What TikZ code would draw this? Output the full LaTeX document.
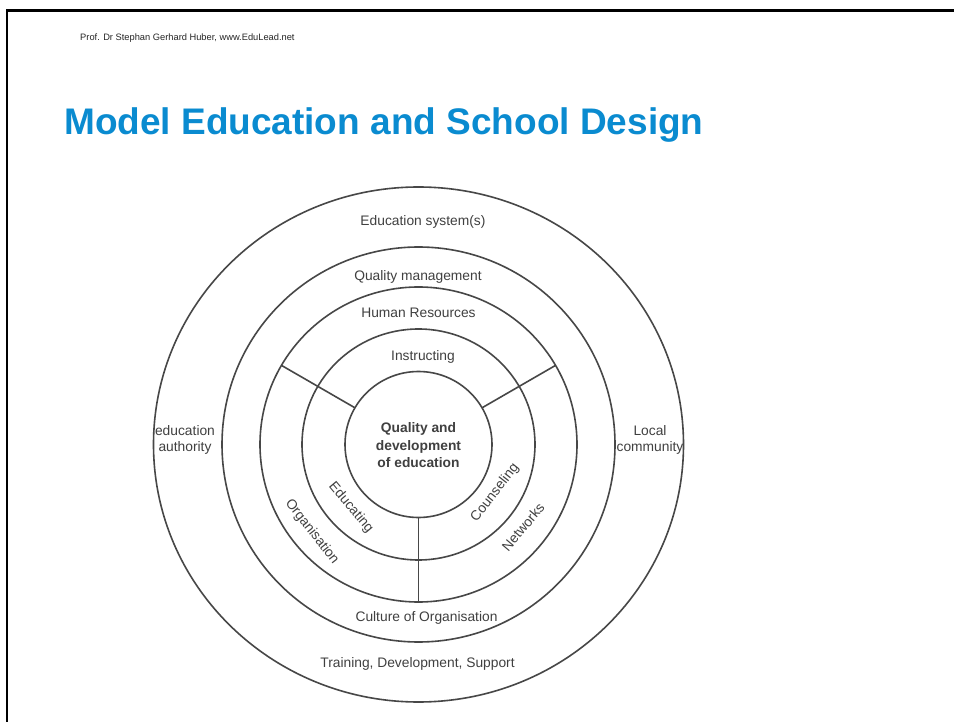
\documentclass[tikz,border=0pt]{standalone}
\usepackage{fontspec}
\setmainfont{Liberation Sans}
\definecolor{titleblue}{HTML}{0A8BD0}
\definecolor{ringgrey}{HTML}{474747}
\definecolor{textgrey}{HTML}{404040}
\begin{document}
\begin{tikzpicture}[x=1pt,y=1pt,
  ring/.style={draw=ringgrey,line width=1.6pt},
  lbl/.style={text=textgrey,font=\fontsize{13.8}{16}\selectfont,inner sep=0pt,text height=9.9pt,text depth=0pt},
  corelbl/.style={lbl,font=\fontsize{13.8}{17.5}\selectfont\bfseries,align=center}]
\useasboundingbox (0,0) rectangle (954,-722);
\fill[white] (0,0) rectangle (954,-722);
\draw[line width=2.5pt] (7,-722) -- (7,-10.5) -- (954,-10.5);
\node[anchor=west,inner sep=0pt,font=\fontsize{9.3}{11}\selectfont,text=black!85] (hdr) at (80,-38) {Prof. Dr Stephan Gerhard Huber, www.EduLead.net};
\node[anchor=base west,inner sep=0pt,font=\fontsize{37}{44}\selectfont\bfseries,text=titleblue] (title) at (64,-135) {Model Education and School Design};
\coordinate (c) at (418.5,-444.5);
\draw[ring] (c) ellipse [x radius=265, y radius=257.5];
\draw[ring] (c) ellipse [x radius=196.5, y radius=197.5];
\draw[ring] (c) ellipse [x radius=158.5, y radius=157.5];
\draw[ring] (c) ellipse [x radius=116.5, y radius=115.5];
\draw[ring] (c) ellipse [x radius=73.5, y radius=73];
\foreach \a in {30,150,270}{
  \draw[ring] ([shift={(\a:73.2)}]c) -- ([shift={(\a:158)}]c);
}
\node[lbl] (edsys) at (423,-221) {Education system(s)};
\node[lbl] (qm) at (418,-276) {Quality management};
\node[lbl] (hr) at (418.5,-313) {Human Resources};
\node[lbl] (instr) at (423,-356) {Instructing};
\node[lbl,align=center] (auth) at (185,-447) {education\\authority};
\node[lbl,align=center] (local) at (650,-447) {Local\\community};
\node[lbl] (culture) at (426.5,-617) {Culture of Organisation};
\node[lbl] (train) at (417.5,-663) {Training, Development, Support};
\node[corelbl] (core) at (418.5,-463) {Quality and\\development\\of education};
\node[lbl,rotate=-50] (educ) at (352,-507) {Educating};
\node[lbl,rotate=52] (couns) at (494,-492) {Counseling};
\node[lbl,rotate=-52] (org) at (313,-531) {Organisation};
\node[lbl,rotate=50] (netw) at (523,-527) {Networks};
\end{tikzpicture}
\end{document}
